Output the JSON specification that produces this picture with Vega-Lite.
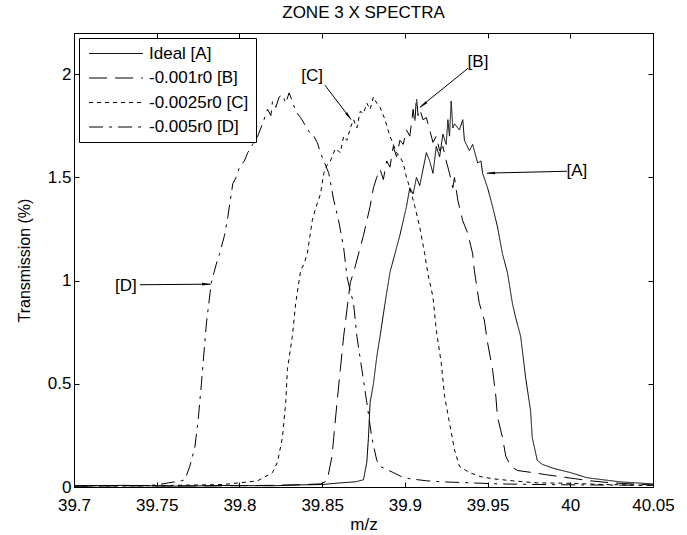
{
  "$schema": "https://vega.github.io/schema/vega-lite/v6.json",
  "autosize": "none",
  "width": 579,
  "height": 454,
  "padding": {"left": 74, "top": 33, "right": 34, "bottom": 48},
  "background": "white",
  "title": {"text": "ZONE 3 X SPECTRA", "font": "Liberation Sans", "fontSize": 17, "fontWeight": "normal", "color": "black", "offset": 11, "anchor": "middle"},
  "datasets": {
    "spectra": [
      {"series": "Ideal [A]", "x": 39.700, "y": 0.005},
      {"series": "Ideal [A]", "x": 39.730, "y": 0.008},
      {"series": "Ideal [A]", "x": 39.760, "y": 0.004},
      {"series": "Ideal [A]", "x": 39.790, "y": 0.007},
      {"series": "Ideal [A]", "x": 39.820, "y": 0.006},
      {"series": "Ideal [A]", "x": 39.837, "y": 0.010},
      {"series": "Ideal [A]", "x": 39.850, "y": 0.012},
      {"series": "Ideal [A]", "x": 39.861, "y": 0.020},
      {"series": "Ideal [A]", "x": 39.870, "y": 0.025},
      {"series": "Ideal [A]", "x": 39.875, "y": 0.035},
      {"series": "Ideal [A]", "x": 39.877, "y": 0.12},
      {"series": "Ideal [A]", "x": 39.878, "y": 0.24},
      {"series": "Ideal [A]", "x": 39.879, "y": 0.41},
      {"series": "Ideal [A]", "x": 39.881, "y": 0.50},
      {"series": "Ideal [A]", "x": 39.883, "y": 0.63},
      {"series": "Ideal [A]", "x": 39.885, "y": 0.73},
      {"series": "Ideal [A]", "x": 39.888, "y": 0.89},
      {"series": "Ideal [A]", "x": 39.891, "y": 1.04},
      {"series": "Ideal [A]", "x": 39.893, "y": 1.10},
      {"series": "Ideal [A]", "x": 39.895, "y": 1.16},
      {"series": "Ideal [A]", "x": 39.897, "y": 1.22},
      {"series": "Ideal [A]", "x": 39.899, "y": 1.29},
      {"series": "Ideal [A]", "x": 39.901, "y": 1.36},
      {"series": "Ideal [A]", "x": 39.903, "y": 1.45},
      {"series": "Ideal [A]", "x": 39.905, "y": 1.42},
      {"series": "Ideal [A]", "x": 39.907, "y": 1.50},
      {"series": "Ideal [A]", "x": 39.909, "y": 1.46},
      {"series": "Ideal [A]", "x": 39.911, "y": 1.54},
      {"series": "Ideal [A]", "x": 39.913, "y": 1.62},
      {"series": "Ideal [A]", "x": 39.915, "y": 1.58},
      {"series": "Ideal [A]", "x": 39.917, "y": 1.52},
      {"series": "Ideal [A]", "x": 39.919, "y": 1.65},
      {"series": "Ideal [A]", "x": 39.921, "y": 1.60},
      {"series": "Ideal [A]", "x": 39.923, "y": 1.71},
      {"series": "Ideal [A]", "x": 39.925, "y": 1.66},
      {"series": "Ideal [A]", "x": 39.926, "y": 1.78},
      {"series": "Ideal [A]", "x": 39.927, "y": 1.70},
      {"series": "Ideal [A]", "x": 39.928, "y": 1.87},
      {"series": "Ideal [A]", "x": 39.929, "y": 1.74},
      {"series": "Ideal [A]", "x": 39.930, "y": 1.76},
      {"series": "Ideal [A]", "x": 39.933, "y": 1.73},
      {"series": "Ideal [A]", "x": 39.935, "y": 1.78},
      {"series": "Ideal [A]", "x": 39.936, "y": 1.68},
      {"series": "Ideal [A]", "x": 39.939, "y": 1.63},
      {"series": "Ideal [A]", "x": 39.941, "y": 1.66},
      {"series": "Ideal [A]", "x": 39.944, "y": 1.57},
      {"series": "Ideal [A]", "x": 39.946, "y": 1.58},
      {"series": "Ideal [A]", "x": 39.947, "y": 1.52},
      {"series": "Ideal [A]", "x": 39.950, "y": 1.45},
      {"series": "Ideal [A]", "x": 39.953, "y": 1.36},
      {"series": "Ideal [A]", "x": 39.956, "y": 1.26},
      {"series": "Ideal [A]", "x": 39.959, "y": 1.13},
      {"series": "Ideal [A]", "x": 39.962, "y": 1.04},
      {"series": "Ideal [A]", "x": 39.965, "y": 0.89},
      {"series": "Ideal [A]", "x": 39.967, "y": 0.82},
      {"series": "Ideal [A]", "x": 39.970, "y": 0.73},
      {"series": "Ideal [A]", "x": 39.973, "y": 0.53},
      {"series": "Ideal [A]", "x": 39.976, "y": 0.37},
      {"series": "Ideal [A]", "x": 39.977, "y": 0.24},
      {"series": "Ideal [A]", "x": 39.980, "y": 0.13},
      {"series": "Ideal [A]", "x": 39.983, "y": 0.11},
      {"series": "Ideal [A]", "x": 39.990, "y": 0.09},
      {"series": "Ideal [A]", "x": 40.000, "y": 0.07},
      {"series": "Ideal [A]", "x": 40.010, "y": 0.045},
      {"series": "Ideal [A]", "x": 40.020, "y": 0.035},
      {"series": "Ideal [A]", "x": 40.030, "y": 0.025},
      {"series": "Ideal [A]", "x": 40.040, "y": 0.02},
      {"series": "Ideal [A]", "x": 40.050, "y": 0.015},

      {"series": "-0.001r0 [B]", "x": 39.700, "y": 0.004},
      {"series": "-0.001r0 [B]", "x": 39.740, "y": 0.006},
      {"series": "-0.001r0 [B]", "x": 39.780, "y": 0.005},
      {"series": "-0.001r0 [B]", "x": 39.820, "y": 0.008},
      {"series": "-0.001r0 [B]", "x": 39.840, "y": 0.012},
      {"series": "-0.001r0 [B]", "x": 39.849, "y": 0.015},
      {"series": "-0.001r0 [B]", "x": 39.853, "y": 0.03},
      {"series": "-0.001r0 [B]", "x": 39.856, "y": 0.15},
      {"series": "-0.001r0 [B]", "x": 39.857, "y": 0.24},
      {"series": "-0.001r0 [B]", "x": 39.859, "y": 0.41},
      {"series": "-0.001r0 [B]", "x": 39.861, "y": 0.57},
      {"series": "-0.001r0 [B]", "x": 39.863, "y": 0.73},
      {"series": "-0.001r0 [B]", "x": 39.865, "y": 0.86},
      {"series": "-0.001r0 [B]", "x": 39.867, "y": 0.99},
      {"series": "-0.001r0 [B]", "x": 39.869, "y": 1.04},
      {"series": "-0.001r0 [B]", "x": 39.871, "y": 1.10},
      {"series": "-0.001r0 [B]", "x": 39.873, "y": 1.16},
      {"series": "-0.001r0 [B]", "x": 39.875, "y": 1.22},
      {"series": "-0.001r0 [B]", "x": 39.877, "y": 1.29},
      {"series": "-0.001r0 [B]", "x": 39.879, "y": 1.36},
      {"series": "-0.001r0 [B]", "x": 39.881, "y": 1.45},
      {"series": "-0.001r0 [B]", "x": 39.883, "y": 1.50},
      {"series": "-0.001r0 [B]", "x": 39.885, "y": 1.54},
      {"series": "-0.001r0 [B]", "x": 39.887, "y": 1.49},
      {"series": "-0.001r0 [B]", "x": 39.889, "y": 1.58},
      {"series": "-0.001r0 [B]", "x": 39.891, "y": 1.55},
      {"series": "-0.001r0 [B]", "x": 39.893, "y": 1.65},
      {"series": "-0.001r0 [B]", "x": 39.895, "y": 1.60},
      {"series": "-0.001r0 [B]", "x": 39.897, "y": 1.68},
      {"series": "-0.001r0 [B]", "x": 39.899, "y": 1.66},
      {"series": "-0.001r0 [B]", "x": 39.901, "y": 1.73},
      {"series": "-0.001r0 [B]", "x": 39.903, "y": 1.70},
      {"series": "-0.001r0 [B]", "x": 39.905, "y": 1.83},
      {"series": "-0.001r0 [B]", "x": 39.906, "y": 1.76},
      {"series": "-0.001r0 [B]", "x": 39.907, "y": 1.89},
      {"series": "-0.001r0 [B]", "x": 39.908, "y": 1.80},
      {"series": "-0.001r0 [B]", "x": 39.909, "y": 1.83},
      {"series": "-0.001r0 [B]", "x": 39.911, "y": 1.78},
      {"series": "-0.001r0 [B]", "x": 39.913, "y": 1.79},
      {"series": "-0.001r0 [B]", "x": 39.915, "y": 1.73},
      {"series": "-0.001r0 [B]", "x": 39.917, "y": 1.67},
      {"series": "-0.001r0 [B]", "x": 39.919, "y": 1.70},
      {"series": "-0.001r0 [B]", "x": 39.921, "y": 1.63},
      {"series": "-0.001r0 [B]", "x": 39.923, "y": 1.65},
      {"series": "-0.001r0 [B]", "x": 39.925, "y": 1.58},
      {"series": "-0.001r0 [B]", "x": 39.927, "y": 1.52},
      {"series": "-0.001r0 [B]", "x": 39.929, "y": 1.45},
      {"series": "-0.001r0 [B]", "x": 39.930, "y": 1.50},
      {"series": "-0.001r0 [B]", "x": 39.932, "y": 1.39},
      {"series": "-0.001r0 [B]", "x": 39.935, "y": 1.29},
      {"series": "-0.001r0 [B]", "x": 39.938, "y": 1.23},
      {"series": "-0.001r0 [B]", "x": 39.941, "y": 1.13},
      {"series": "-0.001r0 [B]", "x": 39.942, "y": 1.05},
      {"series": "-0.001r0 [B]", "x": 39.945, "y": 0.89},
      {"series": "-0.001r0 [B]", "x": 39.948, "y": 0.81},
      {"series": "-0.001r0 [B]", "x": 39.950, "y": 0.70},
      {"series": "-0.001r0 [B]", "x": 39.953, "y": 0.57},
      {"series": "-0.001r0 [B]", "x": 39.955, "y": 0.44},
      {"series": "-0.001r0 [B]", "x": 39.956, "y": 0.34},
      {"series": "-0.001r0 [B]", "x": 39.959, "y": 0.24},
      {"series": "-0.001r0 [B]", "x": 39.961, "y": 0.15},
      {"series": "-0.001r0 [B]", "x": 39.964, "y": 0.10},
      {"series": "-0.001r0 [B]", "x": 39.968, "y": 0.08},
      {"series": "-0.001r0 [B]", "x": 39.977, "y": 0.07},
      {"series": "-0.001r0 [B]", "x": 39.985, "y": 0.06},
      {"series": "-0.001r0 [B]", "x": 39.994, "y": 0.05},
      {"series": "-0.001r0 [B]", "x": 40.003, "y": 0.04},
      {"series": "-0.001r0 [B]", "x": 40.012, "y": 0.03},
      {"series": "-0.001r0 [B]", "x": 40.025, "y": 0.02},
      {"series": "-0.001r0 [B]", "x": 40.037, "y": 0.015},
      {"series": "-0.001r0 [B]", "x": 40.050, "y": 0.01},

      {"series": "-0.0025r0 [C]", "x": 39.700, "y": 0.006},
      {"series": "-0.0025r0 [C]", "x": 39.730, "y": 0.005},
      {"series": "-0.0025r0 [C]", "x": 39.760, "y": 0.008},
      {"series": "-0.0025r0 [C]", "x": 39.790, "y": 0.012},
      {"series": "-0.0025r0 [C]", "x": 39.800, "y": 0.02},
      {"series": "-0.0025r0 [C]", "x": 39.811, "y": 0.03},
      {"series": "-0.0025r0 [C]", "x": 39.820, "y": 0.07},
      {"series": "-0.0025r0 [C]", "x": 39.823, "y": 0.12},
      {"series": "-0.0025r0 [C]", "x": 39.826, "y": 0.24},
      {"series": "-0.0025r0 [C]", "x": 39.828, "y": 0.41},
      {"series": "-0.0025r0 [C]", "x": 39.829, "y": 0.57},
      {"series": "-0.0025r0 [C]", "x": 39.832, "y": 0.73},
      {"series": "-0.0025r0 [C]", "x": 39.834, "y": 0.89},
      {"series": "-0.0025r0 [C]", "x": 39.837, "y": 1.05},
      {"series": "-0.0025r0 [C]", "x": 39.839, "y": 1.08},
      {"series": "-0.0025r0 [C]", "x": 39.841, "y": 1.13},
      {"series": "-0.0025r0 [C]", "x": 39.844, "y": 1.29},
      {"series": "-0.0025r0 [C]", "x": 39.846, "y": 1.35},
      {"series": "-0.0025r0 [C]", "x": 39.849, "y": 1.42},
      {"series": "-0.0025r0 [C]", "x": 39.851, "y": 1.52},
      {"series": "-0.0025r0 [C]", "x": 39.853, "y": 1.56},
      {"series": "-0.0025r0 [C]", "x": 39.855, "y": 1.58},
      {"series": "-0.0025r0 [C]", "x": 39.858, "y": 1.64},
      {"series": "-0.0025r0 [C]", "x": 39.861, "y": 1.62},
      {"series": "-0.0025r0 [C]", "x": 39.863, "y": 1.70},
      {"series": "-0.0025r0 [C]", "x": 39.865, "y": 1.68},
      {"series": "-0.0025r0 [C]", "x": 39.867, "y": 1.74},
      {"series": "-0.0025r0 [C]", "x": 39.869, "y": 1.78},
      {"series": "-0.0025r0 [C]", "x": 39.871, "y": 1.74},
      {"series": "-0.0025r0 [C]", "x": 39.873, "y": 1.82},
      {"series": "-0.0025r0 [C]", "x": 39.875, "y": 1.81},
      {"series": "-0.0025r0 [C]", "x": 39.877, "y": 1.86},
      {"series": "-0.0025r0 [C]", "x": 39.879, "y": 1.83},
      {"series": "-0.0025r0 [C]", "x": 39.881, "y": 1.89},
      {"series": "-0.0025r0 [C]", "x": 39.883, "y": 1.86},
      {"series": "-0.0025r0 [C]", "x": 39.885, "y": 1.84},
      {"series": "-0.0025r0 [C]", "x": 39.888, "y": 1.78},
      {"series": "-0.0025r0 [C]", "x": 39.891, "y": 1.70},
      {"series": "-0.0025r0 [C]", "x": 39.893, "y": 1.66},
      {"series": "-0.0025r0 [C]", "x": 39.895, "y": 1.62},
      {"series": "-0.0025r0 [C]", "x": 39.897, "y": 1.60},
      {"series": "-0.0025r0 [C]", "x": 39.899, "y": 1.57},
      {"series": "-0.0025r0 [C]", "x": 39.901, "y": 1.50},
      {"series": "-0.0025r0 [C]", "x": 39.903, "y": 1.45},
      {"series": "-0.0025r0 [C]", "x": 39.906, "y": 1.36},
      {"series": "-0.0025r0 [C]", "x": 39.909, "y": 1.26},
      {"series": "-0.0025r0 [C]", "x": 39.912, "y": 1.13},
      {"series": "-0.0025r0 [C]", "x": 39.914, "y": 1.03},
      {"series": "-0.0025r0 [C]", "x": 39.917, "y": 0.92},
      {"series": "-0.0025r0 [C]", "x": 39.919, "y": 0.76},
      {"series": "-0.0025r0 [C]", "x": 39.922, "y": 0.60},
      {"series": "-0.0025r0 [C]", "x": 39.924, "y": 0.44},
      {"series": "-0.0025r0 [C]", "x": 39.927, "y": 0.31},
      {"series": "-0.0025r0 [C]", "x": 39.930, "y": 0.18},
      {"series": "-0.0025r0 [C]", "x": 39.933, "y": 0.10},
      {"series": "-0.0025r0 [C]", "x": 39.939, "y": 0.07},
      {"series": "-0.0025r0 [C]", "x": 39.946, "y": 0.05},
      {"series": "-0.0025r0 [C]", "x": 39.953, "y": 0.04},
      {"series": "-0.0025r0 [C]", "x": 39.965, "y": 0.03},
      {"series": "-0.0025r0 [C]", "x": 39.980, "y": 0.02},
      {"series": "-0.0025r0 [C]", "x": 40.000, "y": 0.018},
      {"series": "-0.0025r0 [C]", "x": 40.020, "y": 0.012},
      {"series": "-0.0025r0 [C]", "x": 40.050, "y": 0.008},

      {"series": "-0.005r0 [D]", "x": 39.700, "y": 0.005},
      {"series": "-0.005r0 [D]", "x": 39.720, "y": 0.007},
      {"series": "-0.005r0 [D]", "x": 39.740, "y": 0.006},
      {"series": "-0.005r0 [D]", "x": 39.750, "y": 0.01},
      {"series": "-0.005r0 [D]", "x": 39.757, "y": 0.02},
      {"series": "-0.005r0 [D]", "x": 39.765, "y": 0.03},
      {"series": "-0.005r0 [D]", "x": 39.767, "y": 0.035},
      {"series": "-0.005r0 [D]", "x": 39.770, "y": 0.10},
      {"series": "-0.005r0 [D]", "x": 39.773, "y": 0.19},
      {"series": "-0.005r0 [D]", "x": 39.775, "y": 0.32},
      {"series": "-0.005r0 [D]", "x": 39.777, "y": 0.50},
      {"series": "-0.005r0 [D]", "x": 39.780, "y": 0.79},
      {"series": "-0.005r0 [D]", "x": 39.783, "y": 0.99},
      {"series": "-0.005r0 [D]", "x": 39.786, "y": 1.08},
      {"series": "-0.005r0 [D]", "x": 39.788, "y": 1.13},
      {"series": "-0.005r0 [D]", "x": 39.791, "y": 1.22},
      {"series": "-0.005r0 [D]", "x": 39.793, "y": 1.31},
      {"series": "-0.005r0 [D]", "x": 39.796, "y": 1.47},
      {"series": "-0.005r0 [D]", "x": 39.798, "y": 1.50},
      {"series": "-0.005r0 [D]", "x": 39.800, "y": 1.55},
      {"series": "-0.005r0 [D]", "x": 39.803, "y": 1.58},
      {"series": "-0.005r0 [D]", "x": 39.805, "y": 1.62},
      {"series": "-0.005r0 [D]", "x": 39.808, "y": 1.66},
      {"series": "-0.005r0 [D]", "x": 39.811, "y": 1.70},
      {"series": "-0.005r0 [D]", "x": 39.814, "y": 1.76},
      {"series": "-0.005r0 [D]", "x": 39.817, "y": 1.83},
      {"series": "-0.005r0 [D]", "x": 39.819, "y": 1.80},
      {"series": "-0.005r0 [D]", "x": 39.820, "y": 1.87},
      {"series": "-0.005r0 [D]", "x": 39.822, "y": 1.84},
      {"series": "-0.005r0 [D]", "x": 39.824, "y": 1.89},
      {"series": "-0.005r0 [D]", "x": 39.826, "y": 1.90},
      {"series": "-0.005r0 [D]", "x": 39.828, "y": 1.86},
      {"series": "-0.005r0 [D]", "x": 39.830, "y": 1.91},
      {"series": "-0.005r0 [D]", "x": 39.832, "y": 1.87},
      {"series": "-0.005r0 [D]", "x": 39.834, "y": 1.82},
      {"series": "-0.005r0 [D]", "x": 39.837, "y": 1.79},
      {"series": "-0.005r0 [D]", "x": 39.840, "y": 1.75},
      {"series": "-0.005r0 [D]", "x": 39.843, "y": 1.71},
      {"series": "-0.005r0 [D]", "x": 39.845, "y": 1.70},
      {"series": "-0.005r0 [D]", "x": 39.847, "y": 1.67},
      {"series": "-0.005r0 [D]", "x": 39.849, "y": 1.62},
      {"series": "-0.005r0 [D]", "x": 39.851, "y": 1.58},
      {"series": "-0.005r0 [D]", "x": 39.854, "y": 1.52},
      {"series": "-0.005r0 [D]", "x": 39.857, "y": 1.39},
      {"series": "-0.005r0 [D]", "x": 39.860, "y": 1.29},
      {"series": "-0.005r0 [D]", "x": 39.863, "y": 1.16},
      {"series": "-0.005r0 [D]", "x": 39.865, "y": 1.02},
      {"series": "-0.005r0 [D]", "x": 39.867, "y": 0.95},
      {"series": "-0.005r0 [D]", "x": 39.869, "y": 0.89},
      {"series": "-0.005r0 [D]", "x": 39.871, "y": 0.73},
      {"series": "-0.005r0 [D]", "x": 39.874, "y": 0.57},
      {"series": "-0.005r0 [D]", "x": 39.877, "y": 0.41},
      {"series": "-0.005r0 [D]", "x": 39.880, "y": 0.24},
      {"series": "-0.005r0 [D]", "x": 39.883, "y": 0.13},
      {"series": "-0.005r0 [D]", "x": 39.885, "y": 0.10},
      {"series": "-0.005r0 [D]", "x": 39.889, "y": 0.085},
      {"series": "-0.005r0 [D]", "x": 39.893, "y": 0.07},
      {"series": "-0.005r0 [D]", "x": 39.898, "y": 0.05},
      {"series": "-0.005r0 [D]", "x": 39.903, "y": 0.04},
      {"series": "-0.005r0 [D]", "x": 39.913, "y": 0.03},
      {"series": "-0.005r0 [D]", "x": 39.923, "y": 0.025},
      {"series": "-0.005r0 [D]", "x": 39.940, "y": 0.02},
      {"series": "-0.005r0 [D]", "x": 39.957, "y": 0.015},
      {"series": "-0.005r0 [D]", "x": 39.980, "y": 0.012},
      {"series": "-0.005r0 [D]", "x": 40.010, "y": 0.01},
      {"series": "-0.005r0 [D]", "x": 40.050, "y": 0.008}
    ],
    "notes": [
      {"label": "[A]", "tx": 40.004, "ty": 1.531, "x1": 39.998, "y1": 1.530, "x2": 39.9497, "y2": 1.521, "hx": 39.9527, "hy": 1.521, "dir": 268},
      {"label": "[B]", "tx": 39.9442, "ty": 2.058, "x1": 39.9382, "y1": 2.029, "x2": 39.9092, "y2": 1.841, "hx": 39.9116, "hy": 1.855, "dir": 231},
      {"label": "[C]", "tx": 39.8439, "ty": 1.990, "x1": 39.8517, "y1": 1.947, "x2": 39.8674, "y2": 1.782, "hx": 39.8656, "hy": 1.801, "dir": 143},
      {"label": "[D]", "tx": 39.7314, "ty": 0.976, "x1": 39.7399, "y1": 0.980, "x2": 39.7826, "y2": 0.983, "hx": 39.7792, "hy": 0.983, "dir": 90}
    ]
  },
  "resolve": {"axis": {"x": "independent", "y": "independent"}},
  "layer": [
    {
      "data": {"name": "spectra"},
      "mark": {"type": "line", "color": "black", "strokeWidth": 1, "interpolate": "linear"},
      "encoding": {
        "x": {"field": "x", "type": "quantitative",
              "scale": {"domain": [39.7, 40.05], "nice": false, "zero": false},
              "axis": {"title": "m/z", "values": [39.7, 39.75, 39.8, 39.85, 39.9, 39.95, 40, 40.05], "format": "~g", "titlePadding": 3, "labelPadding": 15}},
        "y": {"field": "y", "type": "quantitative",
              "scale": {"domain": [0, 2.2], "nice": false, "zero": true},
              "axis": {"title": "Transmission (%)", "values": [0, 0.5, 1, 1.5, 2], "format": "~g", "titleFontSize": 16, "titlePadding": 15}},
        "strokeDash": {"field": "series", "type": "nominal",
              "scale": {"domain": ["Ideal [A]", "-0.001r0 [B]", "-0.0025r0 [C]", "-0.005r0 [D]"],
                        "range": [[1, 0], [18, 8], [4, 4], [14, 6, 3, 6]]},
              "legend": {"title": null}},
        "order": {"field": "x", "type": "quantitative"}
      }
    },
    {
      "data": {"name": "notes"},
      "mark": {"type": "rule", "color": "black", "strokeWidth": 1},
      "encoding": {
        "x": {"field": "x1", "type": "quantitative", "axis": null},
        "y": {"field": "y1", "type": "quantitative", "axis": null},
        "x2": {"field": "x2"},
        "y2": {"field": "y2"}
      }
    },
    {
      "data": {"name": "notes"},
      "mark": {"type": "point", "shape": "wedge", "filled": true, "color": "black", "size": 110, "opacity": 1},
      "encoding": {
        "x": {"field": "hx", "type": "quantitative", "axis": null},
        "y": {"field": "hy", "type": "quantitative", "axis": null},
        "angle": {"field": "dir", "type": "quantitative", "scale": null}
      }
    },
    {
      "data": {"name": "notes"},
      "mark": {"type": "text", "font": "Liberation Sans", "fontSize": 17, "color": "black", "align": "center", "baseline": "middle"},
      "encoding": {
        "x": {"field": "tx", "type": "quantitative", "axis": null},
        "y": {"field": "ty", "type": "quantitative", "axis": null},
        "text": {"field": "label"}
      }
    },
    {
      "data": {"name": "notes"},
      "mark": {"type": "point", "opacity": 0},
      "encoding": {
        "x": {"field": "tx", "type": "quantitative", "axis": {"orient": "top", "labels": false, "title": null, "values": [39.7, 39.75, 39.8, 39.85, 39.9, 39.95, 40, 40.05]}},
        "y": {"field": "ty", "type": "quantitative", "axis": {"orient": "right", "labels": false, "title": null, "values": [0, 0.5, 1, 1.5, 2]}}
      }
    }
  ],
  "config": {
    "view": {"stroke": "black", "strokeWidth": 1},
    "axis": {
      "domainColor": "black", "domainWidth": 1, "tickColor": "black", "tickWidth": 1, "tickSize": -5,
      "labelColor": "black", "titleColor": "black", "labelFont": "Liberation Sans", "titleFont": "Liberation Sans",
      "labelFontSize": 17, "titleFontSize": 17, "titleFontWeight": "normal", "grid": false, "labelPadding": 8, "labelFlush": false, "labelOverlap": false
    },
    "legend": {
      "orient": "top-left", "offset": 5, "strokeColor": "black", "fillColor": "white", "padding": 7, "cornerRadius": 0,
      "labelFont": "Liberation Sans", "labelFontSize": 17, "labelColor": "black", "labelOffset": 46,
      "symbolType": "M-2,0H18", "symbolSize": 29, "symbolStrokeColor": "black", "symbolStrokeWidth": 1, "rowPadding": 6.5
    }
  }
}
